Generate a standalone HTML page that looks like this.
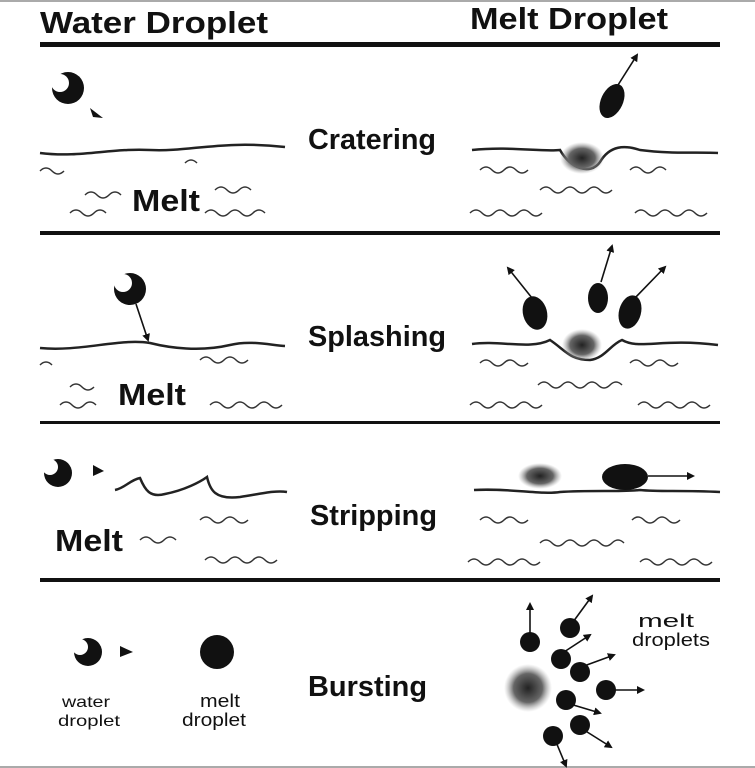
<!DOCTYPE html>
<html><head><meta charset="utf-8"><style>
html,body{margin:0;padding:0;background:#fff;}
svg{display:block;}
text{font-family:"Liberation Sans",Arial,sans-serif;font-weight:bold;fill:#111;}
</style></head><body>
<svg width="755" height="768" viewBox="0 0 755 768" xmlns="http://www.w3.org/2000/svg">
<defs>
<radialGradient id="g"><stop offset="0" stop-color="#222"/><stop offset="0.6" stop-color="#666"/><stop offset="1" stop-color="#aaa" stop-opacity="0"/></radialGradient>
<marker id="a" markerWidth="8" markerHeight="8" refX="6" refY="4" orient="auto" markerUnits="userSpaceOnUse" viewBox="0 0 8 8"><path d="M0,0 L8,4 L0,8 z" fill="#111"/></marker>
</defs>
<rect x="0" y="0" width="755" height="2" fill="#aaa"/>
<rect x="0" y="766" width="755" height="2" fill="#aaa"/>
<text x="40" y="33" font-size="31" textLength="228" lengthAdjust="spacingAndGlyphs">Water Droplet</text>
<text x="470" y="29" font-size="31" textLength="198" lengthAdjust="spacingAndGlyphs">Melt Droplet</text>
<rect x="40" y="42" width="680" height="5" fill="#111"/>
<rect x="40" y="231" width="680" height="4" fill="#111"/>
<rect x="40" y="421" width="680" height="3" fill="#111"/>
<rect x="40" y="578" width="680" height="4" fill="#111"/>

<g font-size="29">
<text x="308" y="149" textLength="128" lengthAdjust="spacingAndGlyphs">Cratering</text>
<text x="308" y="346" textLength="138" lengthAdjust="spacingAndGlyphs">Splashing</text>
<text x="310" y="525" textLength="127" lengthAdjust="spacingAndGlyphs">Stripping</text>
<text x="308" y="696" textLength="119" lengthAdjust="spacingAndGlyphs">Bursting</text>
</g>
<g font-size="31">
<text x="132" y="211" textLength="68" lengthAdjust="spacingAndGlyphs">Melt</text>
<text x="118" y="405" textLength="68" lengthAdjust="spacingAndGlyphs">Melt</text>
<text x="55" y="551" textLength="68" lengthAdjust="spacingAndGlyphs">Melt</text>
</g>

<g fill="none" stroke="#222" stroke-width="2.5">
<path d="M40,153 C80,158 110,148 150,150 C190,152 220,140 285,147"/>
<path d="M472,150 C510,146 540,152 560,150 C570,168 590,176 600,162 C610,145 625,145 640,150 C670,154 700,152 718,153"/>
<path d="M40,348 C80,352 120,338 150,343 C170,348 200,352 230,345 C250,340 270,345 285,346"/>
<path d="M472,344 C500,340 530,350 550,340 C565,350 570,360 590,360 C605,358 610,345 622,340 C640,350 660,338 718,345"/>
<path d="M115,490 C125,488 130,480 140,478 C145,490 150,498 165,494 C185,490 200,482 207,477 C210,490 215,500 240,497 C260,494 275,490 287,492"/>
<path d="M474,490 C510,488 540,495 560,492 C590,490 620,492 640,490 C660,492 680,490 720,492"/>
</g>
<g fill="none" stroke="#333" stroke-width="1.5">
<path d="M40,171 q6,-6 12,0 t12,0 M85,195 q6,-6 12,0 t12,0 t12,0 M70,213 q6,-6 12,0 t12,0 t12,0 M185,163 q6,-6 12,0 M215,190 q6,-6 12,0 t12,0 t12,0 M205,213 q6,-6 12,0 t12,0 t12,0 t12,0 t12,0"/>
<path d="M480,170 q6,-6 12,0 t12,0 t12,0 t12,0 M630,170 q6,-6 12,0 t12,0 t12,0 M540,190 q6,-6 12,0 t12,0 t12,0 t12,0 t12,0 t12,0 M470,213 q6,-6 12,0 t12,0 t12,0 t12,0 t12,0 t12,0 M635,213 q6,-6 12,0 t12,0 t12,0 t12,0 t12,0 t12,0"/>
<path d="M40,365 q6,-6 12,0 M200,360 q6,-6 12,0 t12,0 t12,0 t12,0 M70,387 q6,-6 12,0 t12,0 M60,405 q6,-6 12,0 t12,0 t12,0 M210,405 q6,-6 12,0 t12,0 t12,0 t12,0 t12,0 t12,0"/>
<path d="M480,363 q6,-6 12,0 t12,0 t12,0 t12,0 M630,363 q6,-6 12,0 t12,0 t12,0 t12,0 M538,385 q6,-6 12,0 t12,0 t12,0 t12,0 t12,0 t12,0 t12,0 M470,405 q6,-6 12,0 t12,0 t12,0 t12,0 t12,0 t12,0 M638,405 q6,-6 12,0 t12,0 t12,0 t12,0 t12,0 t12,0"/>
<path d="M200,520 q6,-6 12,0 t12,0 t12,0 t12,0 M140,540 q6,-6 12,0 t12,0 t12,0 M205,560 q6,-6 12,0 t12,0 t12,0 t12,0 t12,0 t12,0"/>
<path d="M480,520 q6,-6 12,0 t12,0 t12,0 t12,0 M632,520 q6,-6 12,0 t12,0 t12,0 t12,0 M540,543 q6,-6 12,0 t12,0 t12,0 t12,0 t12,0 t12,0 t12,0 M468,562 q6,-6 12,0 t12,0 t12,0 t12,0 t12,0 t12,0 M640,562 q6,-6 12,0 t12,0 t12,0 t12,0 t12,0 t12,0"/>
</g>

<g fill="#111">
<circle cx="68" cy="88" r="16"/><circle cx="60" cy="83" r="9" fill="#fff"/>
<path d="M90,108 L103,118 L93,117 z"/>
<circle cx="130" cy="289" r="16"/><circle cx="123" cy="283" r="9" fill="#fff"/>
<circle cx="58" cy="473" r="14"/><circle cx="50" cy="467" r="8" fill="#fff"/>
<path d="M93,465 L104,471 L93,476 z"/>
<circle cx="88" cy="652" r="14"/><circle cx="80" cy="647" r="8" fill="#fff"/>
<path d="M120,646 L133,652 L120,657 z"/>
<circle cx="217" cy="652" r="17"/>
</g>
<g stroke="#111" stroke-width="1.6" fill="none" marker-end="url(#a)">
<line x1="136" y1="304" x2="148" y2="340"/>
<line x1="618" y1="85" x2="637" y2="55"/>
<line x1="532" y1="298" x2="508" y2="268"/>
<line x1="601" y1="282" x2="612" y2="246"/>
<line x1="633" y1="300" x2="665" y2="267"/>
<line x1="648" y1="476" x2="693" y2="476"/>
<line x1="530" y1="636" x2="530" y2="604"/>
<line x1="573" y1="622" x2="592" y2="596"/>
<line x1="564" y1="652" x2="590" y2="635"/>
<line x1="584" y1="666" x2="614" y2="655"/>
<line x1="610" y1="690" x2="643" y2="690"/>
<line x1="570" y1="704" x2="600" y2="713"/>
<line x1="584" y1="730" x2="611" y2="747"/>
<line x1="556" y1="742" x2="566" y2="766"/>
</g>
<g fill="#111">
<ellipse cx="612" cy="101" rx="11" ry="18" transform="rotate(25 612 101)"/>
<ellipse cx="535" cy="313" rx="12" ry="17" transform="rotate(-15 535 313)"/>
<ellipse cx="598" cy="298" rx="10" ry="15"/>
<ellipse cx="630" cy="312" rx="11" ry="17" transform="rotate(15 630 312)"/>
<ellipse cx="625" cy="477" rx="23" ry="13"/>
<circle cx="530" cy="642" r="10"/><circle cx="570" cy="628" r="10"/><circle cx="561" cy="659" r="10"/>
<circle cx="580" cy="672" r="10"/><circle cx="606" cy="690" r="10"/><circle cx="566" cy="700" r="10"/>
<circle cx="580" cy="725" r="10"/><circle cx="553" cy="736" r="10"/>
</g>
<ellipse cx="582" cy="158" rx="22" ry="16" fill="url(#g)"/>
<ellipse cx="582" cy="345" rx="20" ry="16" fill="url(#g)"/>
<ellipse cx="540" cy="476" rx="22" ry="13" fill="url(#g)"/>
<circle cx="528" cy="688" r="24" fill="url(#g)"/>

<text x="638" y="627" font-size="18" style="font-weight:normal" textLength="56" lengthAdjust="spacingAndGlyphs">melt</text>
<text x="632" y="646" font-size="18" style="font-weight:normal" textLength="78" lengthAdjust="spacingAndGlyphs">droplets</text>
<text x="62" y="707" font-size="16" style="font-weight:normal" textLength="48" lengthAdjust="spacingAndGlyphs">water</text>
<text x="58" y="726" font-size="16" style="font-weight:normal" textLength="62" lengthAdjust="spacingAndGlyphs">droplet</text>
<text x="200" y="707" font-size="18" style="font-weight:normal" textLength="40" lengthAdjust="spacingAndGlyphs">melt</text>
<text x="182" y="726" font-size="18" style="font-weight:normal" textLength="64" lengthAdjust="spacingAndGlyphs">droplet</text>
</svg>
</body></html>
